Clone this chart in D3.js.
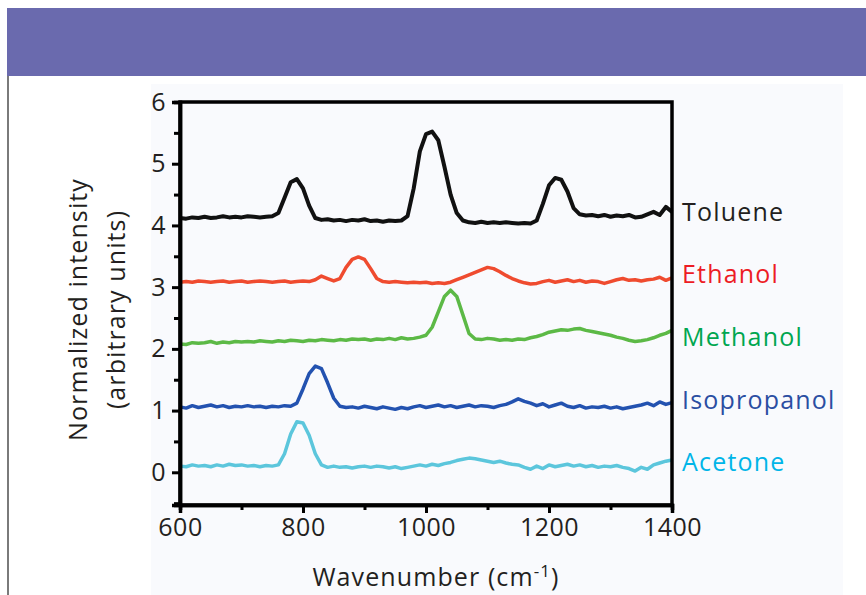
<!DOCTYPE html>
<html>
<head>
<meta charset="utf-8">
<script src="https://cdn.jsdelivr.net/npm/d3@7"></script>
<style>
  body { margin: 0; background: #ffffff; }
  svg { display: block; font-family: "Open Sans", "Noto Sans", sans-serif; }
</style>
</head>
<body>
<div id="chart"></div>
<script>
// Wavenumber grid (cm-1), one reading every 10
var wavenumbers = d3.range(600, 1401, 10);

// Intensity readings, offset stacked as in the figure
var toluene = [4.12,4.11,4.13,4.12,4.14,4.12,4.13,4.15,4.13,4.14,4.13,4.15,4.14,4.13,4.14,4.15,
  4.20,4.45,4.70,4.75,4.60,4.32,4.12,4.09,4.10,4.08,4.09,4.07,4.09,4.08,
  4.10,4.07,4.08,4.06,4.08,4.07,4.08,4.15,4.60,5.20,
  5.48,5.52,5.38,4.95,4.50,4.20,4.08,4.05,4.04,4.06,
  4.04,4.05,4.04,4.05,4.04,4.03,4.04,4.03,4.08,4.35,
  4.65,4.77,4.74,4.55,4.28,4.18,4.16,4.17,4.15,4.17,
  4.14,4.16,4.15,4.17,4.13,4.14,4.18,4.22,4.17,4.30,4.22];
var ethanol = [3.08,3.09,3.08,3.10,3.09,3.08,3.09,3.10,3.08,3.09,3.10,3.08,3.09,3.10,3.09,3.08,3.09,3.10,3.08,3.09,3.10,
  3.09,3.12,3.18,3.14,3.10,3.14,3.32,3.45,3.49,
  3.45,3.30,3.14,3.09,3.08,3.09,3.08,3.07,3.08,3.07,
  3.08,3.06,3.07,3.06,3.08,3.12,3.16,3.20,3.24,3.28,
  3.32,3.30,3.25,3.19,3.14,3.10,3.07,3.05,3.06,3.09,
  3.11,3.08,3.10,3.12,3.09,3.11,3.08,3.10,3.09,3.06,
  3.09,3.12,3.14,3.11,3.12,3.10,3.12,3.13,3.16,3.11,3.15];
var methanol = [2.08,2.07,2.10,2.09,2.10,2.12,2.09,2.11,2.10,2.12,
  2.11,2.12,2.11,2.13,2.12,2.11,2.13,2.12,2.14,2.13,
  2.12,2.14,2.13,2.15,2.14,2.13,2.15,2.14,2.16,2.15,
  2.16,2.14,2.16,2.15,2.17,2.15,2.18,2.16,2.17,2.19,
  2.22,2.35,2.60,2.85,2.95,2.85,2.55,2.25,2.16,2.15,
  2.17,2.16,2.14,2.15,2.14,2.16,2.15,2.18,2.20,2.23,
  2.27,2.29,2.31,2.30,2.32,2.33,2.30,2.28,2.26,2.24,
  2.22,2.19,2.17,2.14,2.12,2.13,2.15,2.18,2.22,2.25,2.30];
var isopropanol = [1.06,1.04,1.08,1.05,1.07,1.09,1.06,1.08,1.05,1.07,
  1.06,1.08,1.06,1.07,1.05,1.07,1.06,1.08,1.07,1.12,
  1.35,1.60,1.72,1.68,1.45,1.20,1.07,1.05,1.06,1.04,
  1.07,1.05,1.03,1.06,1.04,1.02,1.05,1.03,1.06,1.08,
  1.05,1.07,1.09,1.06,1.08,1.05,1.07,1.09,1.06,1.08,
  1.07,1.05,1.08,1.10,1.14,1.19,1.15,1.12,1.08,1.11,
  1.06,1.09,1.12,1.07,1.05,1.08,1.04,1.06,1.05,1.07,
  1.04,1.06,1.03,1.05,1.07,1.09,1.12,1.08,1.14,1.10,1.13];
var acetone = [0.10,0.09,0.12,0.10,0.11,0.09,0.12,0.10,0.13,0.11,
  0.12,0.10,0.11,0.09,0.11,0.10,0.12,0.30,0.62,0.82,
  0.80,0.60,0.30,0.12,0.08,0.10,0.08,0.09,0.07,0.09,
  0.10,0.08,0.10,0.09,0.07,0.09,0.06,0.08,0.10,0.12,
  0.10,0.13,0.11,0.14,0.16,0.19,0.21,0.23,0.22,0.20,
  0.18,0.16,0.18,0.15,0.13,0.12,0.08,0.05,0.10,0.06,
  0.12,0.09,0.11,0.13,0.10,0.12,0.09,0.11,0.08,0.10,
  0.09,0.11,0.08,0.06,0.02,0.08,0.05,0.12,0.15,0.18,0.20];

var seriesNames = ["Toluene", "Ethanol", "Methanol", "Isopropanol", "Acetone"];
var seriesValues = [toluene, ethanol, methanol, isopropanol, acetone];
var lineColors = ["#111111", "#ef4b2f", "#5cb946", "#2352b0", "#5cc6dc"];
var labelColors = ["#231f20", "#ed1c24", "#00a650", "#2b4ea2", "#00b5e8"];
var labelValues = [4.22, 3.21, 2.19, 1.17, 0.17];

var xTicks = [600, 800, 1000, 1200, 1400];
var xMinorTicks = [700, 900, 1100, 1300];
var yTicks = [0, 1, 2, 3, 4, 5, 6];
var yMinorTicks = [-0.5, 0.5, 1.5, 2.5, 3.5, 4.5, 5.5];

var W = 866, H = 595;
var plot = {left: 180, right: 672, top: 102, bottom: 505};

var svg = d3.select("#chart").append("svg")
    .attr("width", W)
    .attr("height", H);

// page furniture: banner and left rule
svg.append("rect").attr("x", 151).attr("y", 84).attr("width", 692).attr("height", H - 84).attr("fill", "#f9fafd");
svg.append("rect").attr("x", 7).attr("y", 8).attr("width", W - 7).attr("height", 68).attr("fill", "#6a6aae");
svg.append("rect").attr("x", 7).attr("y", 76).attr("width", 2).attr("height", H - 76).attr("fill", "#7a7a7a");

var x = d3.scaleLinear().domain([600, 1400]).range([plot.left, plot.right]);
var y = d3.scaleLinear().domain([-0.53, 6]).range([plot.bottom, plot.top]);

var line = d3.line()
    .x(function(d) { return x(d[0]); })
    .y(function(d) { return y(d[1]); });

// spectra
seriesValues.forEach(function(vals, i) {
    svg.append("path")
        .datum(wavenumbers.map(function(w, j) { return [w, vals[j]]; }))
        .attr("fill", "none")
        .attr("stroke", lineColors[i])
        .attr("stroke-width", i === 0 ? 4 : 3.5)
        .attr("stroke-linejoin", "round")
        .attr("d", line);
});

// frame
svg.append("rect")
    .attr("x", plot.left).attr("y", plot.top)
    .attr("width", plot.right - plot.left).attr("height", plot.bottom - plot.top)
    .attr("fill", "none").attr("stroke", "#000").attr("stroke-width", 3.5);

// bottom axis
svg.append("g")
    .attr("transform", "translate(0," + plot.bottom + ")")
    .call(d3.axisBottom(x).tickValues(xTicks).tickSize(8).tickPadding(5).tickFormat(d3.format("d")));
svg.append("g")
    .attr("transform", "translate(0," + plot.bottom + ")")
    .call(d3.axisBottom(x).tickValues(xMinorTicks).tickSize(5).tickFormat(""));

// left axis
svg.append("g")
    .attr("transform", "translate(" + plot.left + ",0)")
    .call(d3.axisLeft(y).tickValues(yTicks).tickSize(8).tickPadding(6).tickFormat(d3.format("d")));
svg.append("g")
    .attr("transform", "translate(" + plot.left + ",0)")
    .call(d3.axisLeft(y).tickValues(yMinorTicks).tickSize(6).tickFormat(""));

svg.selectAll(".domain").attr("stroke", "#000").attr("stroke-width", 3.5);
svg.selectAll(".tick line").attr("stroke", "#000").attr("stroke-width", 3);
svg.selectAll(".tick text")
    .attr("fill", "#231f20")
    .style("font-size", "25px")
    .style("letter-spacing", "0.5px")
    .style("font-family", "'Open Sans', 'Noto Sans', sans-serif");

// series labels on the right
svg.selectAll(".series-label")
    .data(seriesNames)
    .enter()
    .append("text")
    .attr("x", plot.right + 10)
    .attr("y", function(d, i) { return y(labelValues[i]); })
    .attr("dy", "0.35em")
    .attr("fill", function(d, i) { return labelColors[i]; })
    .style("font-size", "25px")
    .style("letter-spacing", "1.2px")
    .text(function(d) { return d; });

// axis titles
var yTitle = svg.append("text")
    .attr("transform", "translate(87," + ((plot.top + plot.bottom) / 2 + 6) + ") rotate(-90)")
    .attr("text-anchor", "middle")
    .attr("fill", "#231f20")
    .style("font-size", "25px")
    .style("letter-spacing", "1.1px");
yTitle.append("tspan").attr("x", 0).attr("dy", 0).text("Normalized intensity");
yTitle.append("tspan").attr("x", 0).attr("dy", 38).text("(arbitrary units)");

var xTitle = svg.append("text")
    .attr("x", (plot.left + plot.right) / 2 + 10)
    .attr("y", 586)
    .attr("text-anchor", "middle")
    .attr("fill", "#231f20")
    .style("font-size", "25px")
    .style("letter-spacing", "1.1px");
xTitle.append("tspan").text("Wavenumber (cm");
xTitle.append("tspan").attr("dy", -9).style("font-size", "17px").text("-1");
xTitle.append("tspan").attr("dy", 9).text(")");
</script>
</body>
</html>
